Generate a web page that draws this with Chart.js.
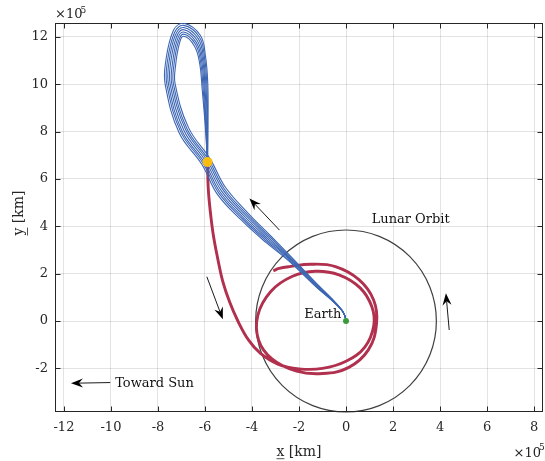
<!DOCTYPE html>
<html><head><meta charset="utf-8">
<script src="https://cdn.jsdelivr.net/npm/chart.js@4.4.0/dist/chart.umd.min.js"></script>
<style>html,body{margin:0;padding:0;background:#fff;}canvas{display:block;}</style>
</head><body>
<canvas id="c" width="545" height="461"></canvas>
<script>
// ---- axis data (units of 1e5 km) ----
const xTicks = [-12,-10,-8,-6,-4,-2,0,2,4,6,8];
const xTickLabels = ['-12','-10','-8','-6','-4','-2','0','2','4','6','8'];
const yTicks = [-2,0,2,4,6,8,10,12];
const yTickLabels = ['-2','0','2','4','6','8','10','12'];
const xRange = [-12.38, 8.38];
const yRange = [-3.844, 12.59];
const lunarOrbitRadius = 3.844;

// ---- points ----
const earth = [[0,0]];
const insertionPoint = [[-5.89,6.72]];

// ---- blue manifold trajectories (outer -> inner) ----
const blue0 = [[0,0],[-0.05,0.22],[-0.18,0.46],[-0.62,0.88],[-1.24,1.41],[-2.45,2.55],[-3.42,3.33],[-4.45,4.26],[-5.47,5.35],[-6.13,6.61],[-7.10,7.95],[-7.69,9.98],[-7.68,10.90],[-7.34,12.28],[-6.91,12.58],[-6.20,12.07],[-5.98,11.20],[-5.88,10.00],[-5.87,8.50],[-5.89,6.72]];
const blue1 = [[0,0],[-0.05,0.22],[-0.18,0.46],[-0.61,0.89],[-1.23,1.42],[-2.43,2.57],[-3.38,3.37],[-4.40,4.31],[-5.41,5.40],[-6.07,6.65],[-7.03,7.99],[-7.62,9.99],[-7.61,10.88],[-7.30,12.18],[-6.91,12.49],[-6.24,12.00],[-6.02,11.14],[-5.92,9.97],[-5.89,8.48],[-5.89,6.72]];
const blue2 = [[0,0],[-0.05,0.22],[-0.18,0.46],[-0.61,0.89],[-1.21,1.44],[-2.40,2.60],[-3.34,3.41],[-4.35,4.35],[-5.36,5.45],[-6.01,6.68],[-6.97,8.02],[-7.55,9.99],[-7.54,10.87],[-7.26,12.08],[-6.91,12.40],[-6.28,11.92],[-6.06,11.08],[-5.96,9.93],[-5.91,8.47],[-5.89,6.72]];
const blue3 = [[0,0],[-0.05,0.22],[-0.18,0.46],[-0.60,0.90],[-1.20,1.45],[-2.38,2.62],[-3.30,3.45],[-4.30,4.40],[-5.30,5.50],[-5.95,6.72],[-6.90,8.06],[-7.48,10.00],[-7.47,10.85],[-7.22,11.98],[-6.92,12.31],[-6.33,11.85],[-6.10,11.03],[-6.00,9.90],[-5.94,8.45],[-5.89,6.72]];
const blue4 = [[0,0],[-0.05,0.22],[-0.18,0.46],[-0.59,0.91],[-1.19,1.46],[-2.36,2.64],[-3.26,3.49],[-4.25,4.45],[-5.24,5.55],[-5.89,6.76],[-6.83,8.10],[-7.41,10.01],[-7.39,10.83],[-7.18,11.88],[-6.92,12.21],[-6.37,11.77],[-6.14,10.97],[-6.04,9.87],[-5.96,8.43],[-5.89,6.72]];
const blue5 = [[0,0],[-0.05,0.22],[-0.18,0.46],[-0.59,0.91],[-1.17,1.48],[-2.33,2.67],[-3.22,3.53],[-4.20,4.49],[-5.19,5.60],[-5.83,6.79],[-6.77,8.13],[-7.34,10.01],[-7.32,10.82],[-7.14,11.78],[-6.92,12.12],[-6.41,11.70],[-6.18,10.91],[-6.08,9.83],[-5.98,8.42],[-5.89,6.72]];
const blue6 = [[0,0],[-0.05,0.22],[-0.18,0.46],[-0.58,0.92],[-1.16,1.49],[-2.31,2.69],[-3.18,3.57],[-4.15,4.54],[-5.13,5.65],[-5.77,6.83],[-6.70,8.17],[-7.27,10.02],[-7.25,10.80],[-7.10,11.68],[-6.92,12.03],[-6.45,11.62],[-6.22,10.85],[-6.12,9.80],[-6.00,8.40],[-5.89,6.72]];

// ---- red transfer trajectory ----
const redPath = [[-5.89,6.72],[-5.86,5.6],[-5.77,4.6],[-5.64,3.6],[-5.45,2.6],[-5.25,1.7],[-4.95,0.8],[-4.6,0.0],[-4.15,-0.8],[-3.65,-1.36],[-2.9,-1.82],[-2.0,-2.02],[-1.0,-2.0],[0.0,-1.7],[0.8,-1.1],[1.18,-0.2],[1.1,0.6],[0.6,1.4],[-0.3,1.95],[-1.3,2.1],[-2.3,1.88],[-3.2,1.25],[-3.75,0.25],[-3.72,-0.8],[-3.15,-1.6],[-2.1,-2.12],[-1.0,-2.22],[0.1,-1.97],[0.95,-1.22],[1.3,-0.1],[1.17,0.9],[0.55,1.75],[-0.45,2.3],[-1.5,2.4],[-2.4,2.3],[-2.85,2.22],[-3.09,2.12]];

// ---- annotations (data units) ----
const arrowTails = [[-2.83,3.84],[-5.92,1.87],[4.39,-0.38],[-10.03,-2.6]];
const arrowTips  = [[-4.11,5.18],[-5.24,0.07],[4.25,1.17],[-11.7,-2.63]];
const noteTexts = ['Lunar Orbit','Earth','Toward Sun'];
const notePos   = [[1.09,4.15],[-0.2,0.11],[-9.82,-2.8]];
const noteAlign = ['left','right','left'];

const toXY = arr => arr.map(p => ({x:p[0], y:p[1]}));
const blueLines = [blue0,blue1,blue2,blue3,blue4,blue5,blue6];
const FONT = '"DejaVu Serif", serif';
const INK = '#262626';

const datasets = [
  {label:'Earth', data:toXY(earth), showLine:false, pointRadius:3, pointBackgroundColor:'#3a9b3a', pointBorderColor:'#3a9b3a', pointBorderWidth:0, order:0},
  {label:'Insertion', data:toXY(insertionPoint), showLine:false, pointRadius:5, pointBackgroundColor:'#f9bd12', pointBorderColor:'#f9bd12', pointBorderWidth:0, order:0},
  ...blueLines.map((b,i) => ({label:'Manifold '+i, data:toXY(b), showLine:true, borderColor:'#3c66b4', borderWidth:1.1, pointRadius:0, tension:0.4, fill:false, order:1})),
  {label:'Transfer', data:toXY(redPath), showLine:true, borderColor:'#b0304e', borderWidth:2.9, pointRadius:0, tension:0.4, fill:false, order:2}
];

function drawArrow(ctx, x1, y1, x2, y2) {
  const dx = x2-x1, dy = y2-y1, L = Math.hypot(dx,dy), ux = dx/L, uy = dy/L, px = -uy, py = ux;
  const hl = 12, hw = 4.5, notch = 8;
  ctx.beginPath(); ctx.moveTo(x1,y1); ctx.lineTo(x2-ux*notch, y2-uy*notch);
  ctx.strokeStyle = '#000'; ctx.lineWidth = 0.9; ctx.stroke();
  ctx.beginPath(); ctx.moveTo(x2,y2);
  ctx.lineTo(x2-ux*hl+px*hw, y2-uy*hl+py*hw);
  ctx.lineTo(x2-ux*notch, y2-uy*notch);
  ctx.lineTo(x2-ux*hl-px*hw, y2-uy*hl-py*hw);
  ctx.closePath(); ctx.fillStyle = '#000'; ctx.fill();
}

const decor = {
  id: 'decor',
  beforeDatasetsDraw(chart) {
    const {ctx, chartArea:a, scales:{x, y}} = chart;
    ctx.save();
    const cx = x.getPixelForValue(0), cy = y.getPixelForValue(0);
    const rx = Math.abs(x.getPixelForValue(lunarOrbitRadius)-cx);
    const ry = Math.abs(y.getPixelForValue(lunarOrbitRadius)-cy);
    ctx.beginPath(); ctx.ellipse(cx, cy, rx, ry, 0, 0, 2*Math.PI);
    ctx.strokeStyle = '#404040'; ctx.lineWidth = 1.2; ctx.stroke();
    const L = Math.round(a.left)+0.5, R = Math.round(a.right)-0.5, T = Math.round(a.top)+0.5, B = Math.round(a.bottom)-0.5;
    ctx.strokeStyle = INK; ctx.lineWidth = 1;
    ctx.strokeRect(L, T, R-L, B-T);
    ctx.beginPath();
    xTicks.forEach(v => { const p = Math.round(x.getPixelForValue(v))+0.5; ctx.moveTo(p,B); ctx.lineTo(p,B-5); ctx.moveTo(p,T); ctx.lineTo(p,T+5); });
    yTicks.forEach(v => { const p = Math.round(y.getPixelForValue(v))+0.5; ctx.moveTo(L,p); ctx.lineTo(L+5,p); ctx.moveTo(R,p); ctx.lineTo(R-5,p); });
    ctx.stroke();
    ctx.restore();
  },
  afterDatasetsDraw(chart) {
    const {ctx, scales:{x, y}} = chart;
    ctx.save();
    arrowTails.forEach((t,i) => {
      drawArrow(ctx, x.getPixelForValue(t[0]), y.getPixelForValue(t[1]), x.getPixelForValue(arrowTips[i][0]), y.getPixelForValue(arrowTips[i][1]));
    });
    ctx.font = '13px ' + FONT; ctx.fillStyle = '#111'; ctx.textBaseline = 'alphabetic';
    noteTexts.forEach((s,i) => {
      ctx.textAlign = noteAlign[i];
      ctx.fillText(s, x.getPixelForValue(notePos[i][0]), y.getPixelForValue(notePos[i][1]));
    });
    ctx.restore();
  },
  afterDraw(chart) {
    const {ctx, chartArea:a} = chart;
    ctx.save();
    ctx.fillStyle = INK; ctx.strokeStyle = INK; ctx.textBaseline = 'alphabetic'; ctx.textAlign = 'left';
    ctx.font = '14px ' + FONT;
    const xt = 'x [km]', xw = ctx.measureText(xt).width, xs = (a.left+a.right)/2 - xw/2, xb = 456;
    ctx.fillText(xt, xs, xb);
    ctx.lineWidth = 0.8; ctx.beginPath(); ctx.moveTo(xs, xb+2.7); ctx.lineTo(xs+ctx.measureText('x').width, xb+2.7); ctx.stroke();
    ctx.save();
    ctx.translate(23, 213); ctx.rotate(-Math.PI/2);
    const yt = 'y [km]', yw = ctx.measureText(yt).width, ys = -yw/2;
    ctx.fillText(yt, ys, 0);
    ctx.beginPath(); ctx.moveTo(ys, 4.5); ctx.lineTo(ys+ctx.measureText('y').width, 4.5); ctx.stroke();
    ctx.restore();
    ctx.font = '13px ' + FONT;
    ctx.fillText('\u00d710', 55, 18.3);
    ctx.fillText('\u00d710', 513.5, 457);
    ctx.font = '9px ' + FONT;
    ctx.fillText('5', 80.5, 12.7);
    ctx.fillText('5', 539, 449.5);
    ctx.restore();
  }
};

new Chart(document.getElementById('c'), {
  type: 'scatter',
  data: { datasets },
  options: {
    responsive: false,
    devicePixelRatio: 1,
    animation: false,
    events: [],
    layout: { autoPadding: false, padding: { left: 0, right: 2, top: 23, bottom: 0 } },
    plugins: { legend: { display: false }, tooltip: { enabled: false }, title: { display: false } },
    scales: {
      x: {
        type: 'linear', min: xRange[0], max: xRange[1],
        afterBuildTicks: s => { s.ticks = xTicks.map(v => ({value: v})); },
        afterFit: s => { s.height = 49; s.paddingLeft = 0; s.paddingRight = 0; },
        ticks: { autoSkip: false, maxRotation: 0, padding: 8, color: INK, font: { family: FONT, size: 13 }, callback: (v, i) => xTickLabels[i] },
        grid: { color: 'rgba(38,38,38,0.13)', lineWidth: 1, drawTicks: false },
        border: { display: false }
      },
      y: {
        type: 'linear', min: yRange[0], max: yRange[1],
        afterBuildTicks: s => { s.ticks = yTicks.map(v => ({value: v})); },
        afterFit: s => { s.width = 55; s.paddingTop = 0; s.paddingBottom = 0; },
        ticks: { autoSkip: false, padding: 7, color: INK, font: { family: FONT, size: 13 }, callback: (v, i) => yTickLabels[i] },
        grid: { color: 'rgba(38,38,38,0.13)', lineWidth: 1, drawTicks: false },
        border: { display: false }
      }
    }
  },
  plugins: [decor]
});
</script>
</body></html>
